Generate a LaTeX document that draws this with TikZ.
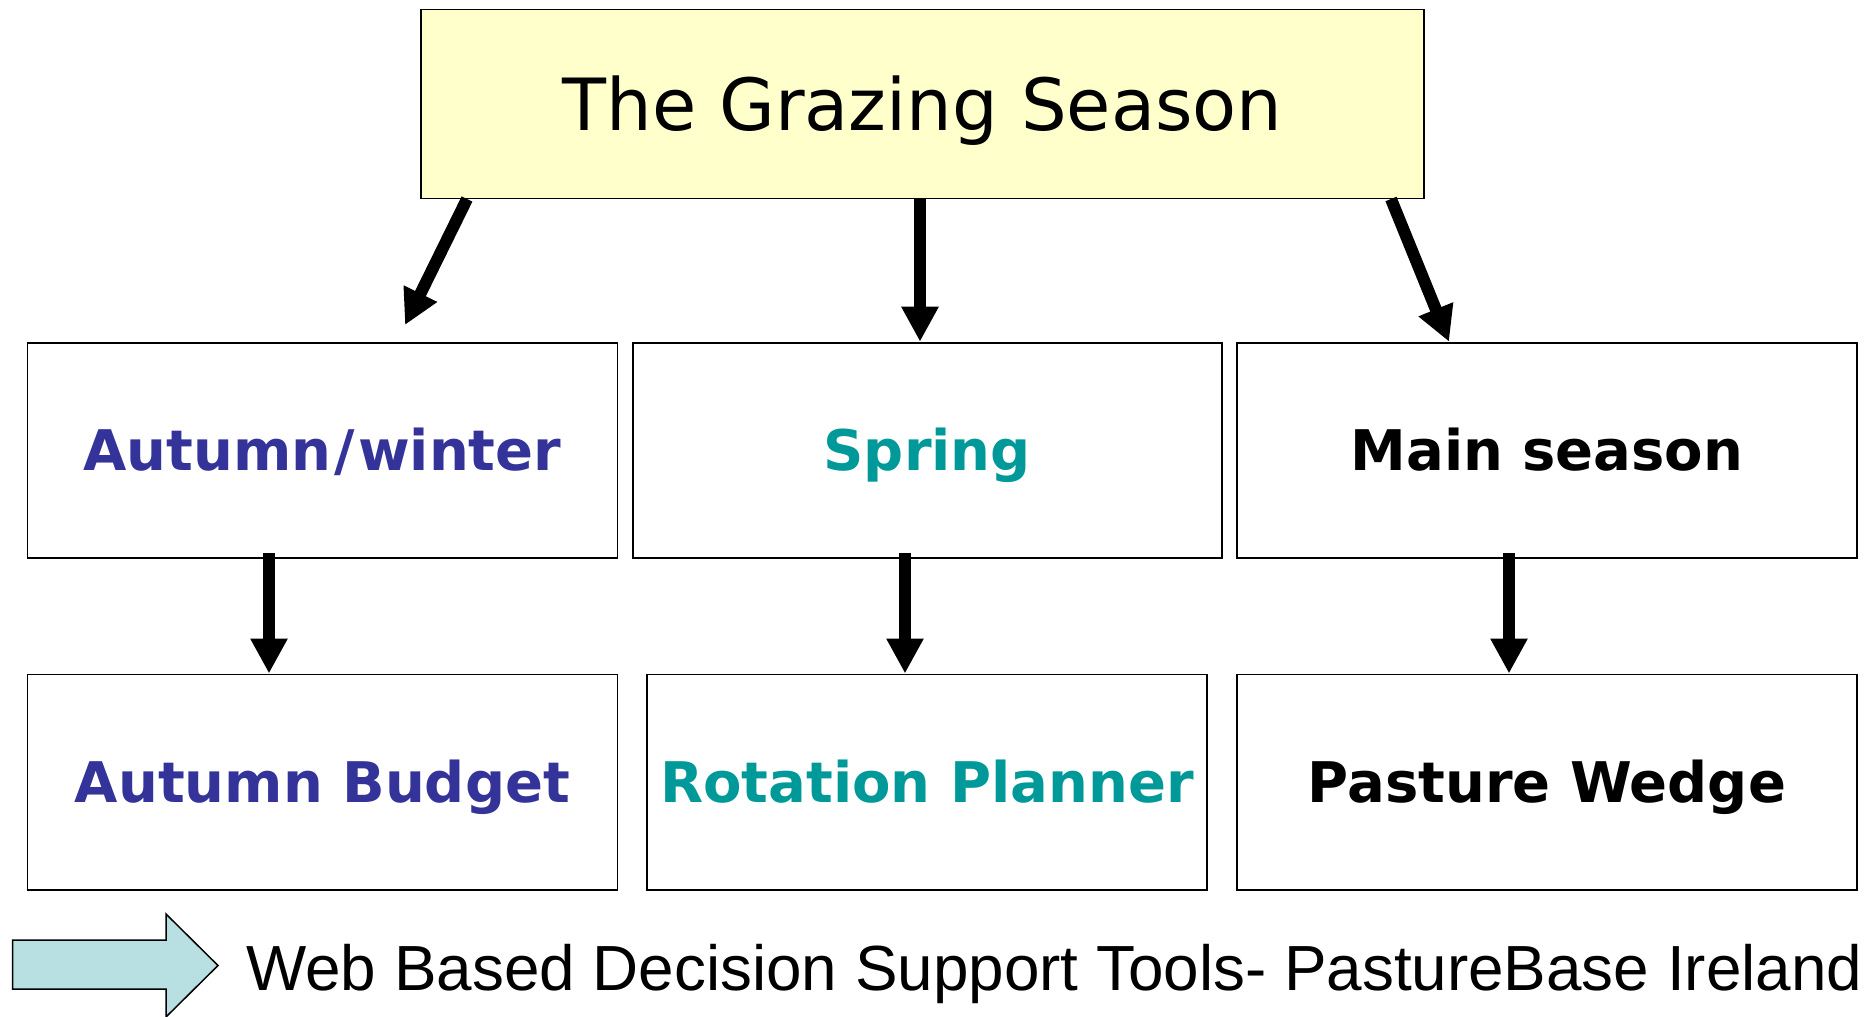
\documentclass[tikz,border=0pt]{standalone}
\usepackage{fontspec}
\setmainfont{DejaVu Sans}
\newfontfamily\arialf{Liberation Sans}
\usetikzlibrary{arrows.meta}
\definecolor{titlefill}{RGB}{255,255,204}
\definecolor{awblue}{RGB}{51,51,153}
\definecolor{spteal}{RGB}{0,153,153}
\definecolor{arrowfill}{RGB}{184,223,225}
\begin{document}
\begin{tikzpicture}[x=0.5pt,y=-0.5pt,
  box/.style={draw=black, line width=0.9pt, fill=white, inner sep=0pt,
    minimum height=107.6pt, text height=20.4pt, text depth=0pt,
    font=\fontsize{28}{30}\selectfont\bfseries},
  arr/.style={line width=6pt, -{Triangle[width=17.5pt,length=17.5pt]}}]
\fill[white] (0,0) rectangle (1865,1017);
\useasboundingbox (0,0) rectangle (1865,1017);

\node[draw=black, fill=titlefill, line width=0.9pt, minimum width=501.5pt,
  minimum height=94.5pt, inner sep=0pt, text height=26.2pt, text depth=0pt,
  font=\fontsize{36}{40}\selectfont] (title) at (922.5,104) {The Grazing Season};

\node[box, minimum width=295pt, text=awblue] (aw) at (322.4,450.2) {Autumn\kern1.5pt/\kern1.5pt winter};
\node[box, minimum width=294.4pt, text=spteal] (sp) at (927.2,450.2) {Spring};
\node[box, minimum width=309.9pt, text=black] (ms) at (1546.9,450.2) {Main season};

\node[box, minimum width=295pt, text=awblue] (ab) at (322.4,782) {Autumn Budget};
\node[box, minimum width=280pt, text=spteal] (rp) at (927,782) {Rotation Planner};
\node[box, minimum width=309.9pt, text=black] (pw) at (1546.9,782) {Pasture Wedge};

\coordinate (t1) at (467,199);
\coordinate (e1) at (405,325);
\coordinate (t2) at (920,199);
\coordinate (t3) at (1391,199);
\coordinate (e3) at (1449,0);
\draw[arr] (t1) -- (e1);
\draw[arr] (t2) -- (t2 |- sp.north);
\draw[arr] (t3) -- (e3 |- ms.north);

\coordinate (c1) at (269,553);
\coordinate (c2) at (905,553);
\coordinate (c3) at (1509,553);
\draw[arr] (c1) -- (c1 |- ab.north);
\draw[arr] (c2) -- (c2 |- rp.north);
\draw[arr] (c3) -- (c3 |- pw.north);

\draw[fill=arrowfill, line width=0.75pt] (12.6,940) -- (166,940) -- (166,914)
  -- (218,965.5) -- (166,1017) -- (166,989) -- (12.6,989) -- cycle;

\node[anchor=base west, inner sep=0pt, font=\arialf\fontsize{31.9}{34}\selectfont]
  (web) at (246,990) {Web Based Decision Support Tools- PastureBase Ireland};
\end{tikzpicture}
\end{document}
